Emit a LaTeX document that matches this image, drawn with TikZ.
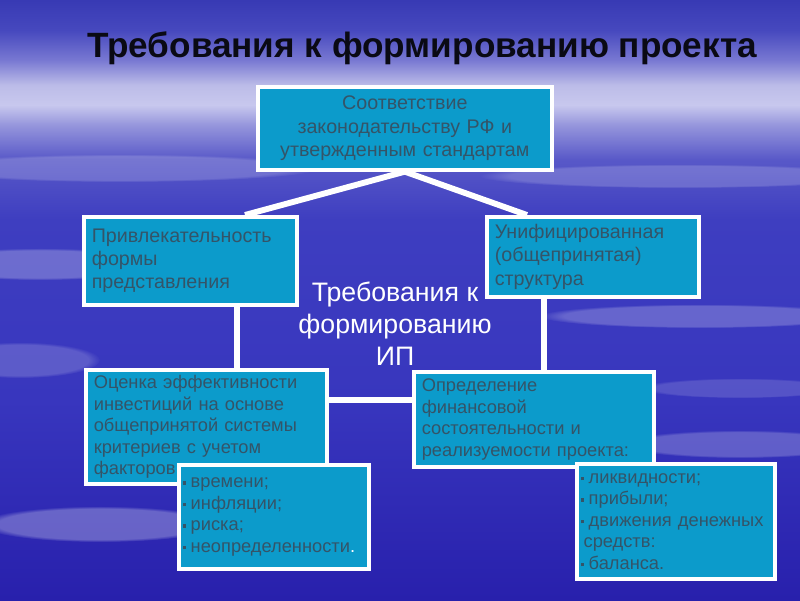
\documentclass[tikz,border=0pt]{standalone}
\usepackage{fontspec}
\setmainfont{Liberation Sans}
\usetikzlibrary{calc,fadings}

\definecolor{boxfill}{RGB}{12,155,203}
\definecolor{boxtext}{RGB}{52,84,104}
\definecolor{titletext}{RGB}{10,10,20}
\pgfdeclareverticalshading{sky}{100bp}{%
  color(0bp)=(rgb,255:red,40;green,32;blue,172);
  color(25bp)=(rgb,255:red,40;green,32;blue,172);
  color(41.7bp)=(rgb,255:red,56;green,54;blue,190);
  color(56.7bp)=(rgb,255:red,62;green,62;blue,192);
  color(61.7bp)=(rgb,255:red,88;green,88;blue,200);
  color(64.6bp)=(rgb,255:red,150;green,150;blue,220);
  color(66.25bp)=(rgb,255:red,200;green,200;blue,238);
  color(67.9bp)=(rgb,255:red,188;green,188;blue,232);
  color(70bp)=(rgb,255:red,120;green,120;blue,210);
  color(72.5bp)=(rgb,255:red,70;green,72;blue,190);
  color(75bp)=(rgb,255:red,56;green,58;blue,180);
  color(100bp)=(rgb,255:red,56;green,58;blue,180)}
\pgfdeclarelayer{back}
\pgfdeclarelayer{mid}
\pgfsetlayers{back,mid,main}
\newcommand{\sqb}{\textcolor{boxtext}{\raisebox{0.3ex}{\rule{2.6pt}{2.6pt}}}\hspace{3pt}}

\begin{document}
\begin{tikzpicture}[
    box/.style={draw=white, line width=2.6pt, fill=boxfill, text=boxtext,
      font=\fontsize{14}{16.5}\selectfont, inner xsep=0.2cm, inner ysep=0pt, anchor=north west},
    smallbox/.style={box, font=\fontsize{13}{15.3}\selectfont},
    listbox/.style={smallbox, inner xsep=0.1cm},
    link/.style={draw=white, line width=4.2pt},
    cloud/.style={white, path fading=circle with fuzzy edge 15 percent}
]
\useasboundingbox (0,0) rectangle (20,-15);

% Background
\begin{pgfonlayer}{back}
\shade[shading=sky] (0,0) rectangle (20,-15);
\begin{scope}
\clip (0,0) rectangle (20,-15);
\fill[cloud, opacity=.25] (1,-6.6) ellipse (3 and .4);
\fill[cloud, opacity=.18] (0.5,-9) ellipse (2 and .45);
\fill[cloud, opacity=.22] (17.5,-7.9) ellipse (4 and .3);
\fill[cloud, opacity=.22] (18.5,-11.1) ellipse (3 and .35);
\fill[cloud, opacity=.28] (2.5,-13.1) ellipse (3 and .45);
\fill[cloud, opacity=.18] (3,-4.2) ellipse (5 and .35);
\fill[cloud, opacity=.18] (17,-4.4) ellipse (5 and .3);
\fill[cloud, opacity=.15] (18.5,-9.7) ellipse (2.5 and .25);
\end{scope}
\end{pgfonlayer}

% Title
\node[font=\fontsize{25}{30}\selectfont\bfseries, text=titletext] (title) at (10.55,-1.2)
  {Требования к формированию проекта};

% Boxes
\node[box, align=center, text width=6.95cm, minimum height=2.075cm]
  (zak) at (6.4,-2.125) {Соответствие\\законодательству РФ и\\утвержденным стандартам};
\node[box, align=left, text width=4.925cm, minimum height=2.2cm]
  (priv) at (2.05,-5.375) {Привлекательность\\формы\\представления};
\node[box, align=left, text width=4.9cm, minimum height=2.0cm]
  (unif) at (12.125,-5.375) {Унифицированная\\(общепринятая)\\структура\\[-2pt]};
\node[smallbox, align=left, text width=5.625cm, minimum height=2.85cm]
  (ocen) at (2.1,-9.2) {Оценка эффективности\\инвестиций на основе\\общепринятой системы\\критериев с учетом\\факторов:};
\node[smallbox, align=left, text width=5.6cm, minimum height=2.375cm]
  (opr) at (10.3,-9.25) {Определение\\финансовой\\состоятельности и\\реализуемости проекта:};
\node[listbox, align=left, text width=4.55cm, minimum height=2.6cm]
  (fakt) at (4.425,-11.575) {\sqb времени;\\\sqb инфляции;\\\sqb риска;\\\sqb неопределенности\textcolor{white}{.}};
\node[listbox, align=left, text width=4.75cm, minimum height=2.875cm]
  (fin) at (14.375,-11.55) {\sqb ликвидности;\\\sqb прибыли;\\\sqb движения денежных\\\hspace*{2pt}средств:\\\sqb баланса.};

% Centre label
\node[text=white, align=center, font=\fontsize{19}{22.8}\selectfont] (treb) at (9.875,-8.1)
  {Требования к\\формированию\\ИП};

% Connectors
\coordinate (pl) at (6.125,0);
\coordinate (pr) at (13.175,0);
\coordinate (vl) at (5.925,0);
\coordinate (vr) at (13.6,0);
\coordinate (hz) at (0,-10);
\begin{pgfonlayer}{mid}
\draw[link] (zak.south) -- (priv.north -| pl);
\draw[link] (zak.south) -- (unif.north -| pr);
\draw[link] (priv.south -| vl) -- (ocen.north -| vl);
\draw[link] (unif.south -| vr) -- (opr.north -| vr);
\draw[link] (ocen.east |- hz) -- (opr.west |- hz);
\end{pgfonlayer}

\end{tikzpicture}
\end{document}
